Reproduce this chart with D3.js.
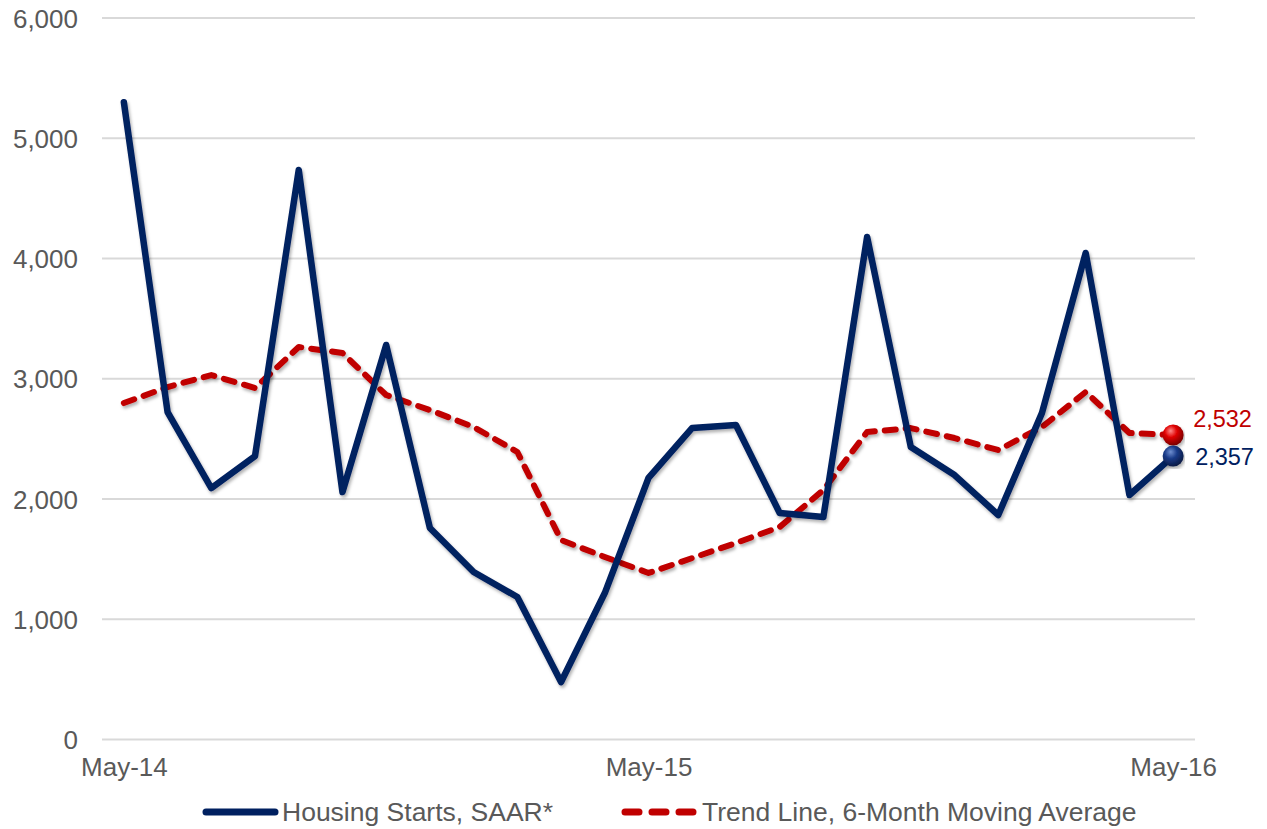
<!DOCTYPE html>
<html>
<head>
<meta charset="utf-8">
<script src="https://cdn.jsdelivr.net/npm/d3@7/dist/d3.min.js"></script>
<style>
  html, body { margin: 0; padding: 0; background: #ffffff; }
  svg { display: block; }
  text { font-family: "Liberation Sans", Arial, sans-serif; }
</style>
</head>
<body>
<svg id="chart" width="1267" height="829"></svg>
<script>
// ---- data ----
const months = ["May-14","Jun-14","Jul-14","Aug-14","Sep-14","Oct-14","Nov-14","Dec-14",
  "Jan-15","Feb-15","Mar-15","Apr-15","May-15","Jun-15","Jul-15","Aug-15","Sep-15","Oct-15",
  "Nov-15","Dec-15","Jan-16","Feb-16","Mar-16","Apr-16","May-16"];
const housingStarts = [5300, 2723, 2091, 2357, 4736, 2058, 3281, 1759, 1393, 1185, 478, 1218,
  2175, 2591, 2615, 1884, 1850, 4179, 2432, 2199, 1867, 2716, 4046, 2033, 2357];
const trendLine = [2798, 2931, 3031, 2923, 3264, 3214, 2865, 2740, 2599, 2391, 1659, 1518,
  1385, 1509, 1634, 1767, 2075, 2557, 2590, 2507, 2407, 2599, 2890, 2549, 2532];
const yTicks = [0, 1000, 2000, 3000, 4000, 5000, 6000];
const xTickLabels = ["May-14", "May-15", "May-16"];
const seriesNames = ["Housing Starts, SAAR*", "Trend Line, 6-Month Moving Average"];

// ---- layout ----
const svg = d3.select("#chart");
const navy = "#002060", red = "#c00000", grey = "#595959", gridC = "#d9d9d9";

const x = d3.scalePoint().domain(months).range([102, 1195]).padding(0.5);
const y = d3.scaleLinear().domain([0, 6000]).range([739.5, 18]);

const defs = svg.append("defs");
const f = defs.append("filter").attr("id", "shadow")
  .attr("x", "-5%").attr("y", "-5%").attr("width", "110%").attr("height", "115%");
f.append("feDropShadow").attr("dx", 1.5).attr("dy", 2.5).attr("stdDeviation", 1.6)
  .attr("flood-color", "#000").attr("flood-opacity", 0.3);

function sphere(id, light, base, dark) {
  const g = defs.append("radialGradient").attr("id", id)
    .attr("cx", "40%").attr("cy", "35%").attr("r", "65%").attr("fx", "38%").attr("fy", "30%");
  g.append("stop").attr("offset", "0%").attr("stop-color", light);
  g.append("stop").attr("offset", "45%").attr("stop-color", base);
  g.append("stop").attr("offset", "100%").attr("stop-color", dark);
}
sphere("redBall", "#ff8a8a", "#e00000", "#7a0000");
sphere("navyBall", "#6f8fd0", "#1a3c8a", "#0a1a45");

// gridlines
svg.append("g").selectAll("line").data(yTicks).join("line")
  .attr("x1", 102).attr("x2", 1195)
  .attr("y1", d => y(d)).attr("y2", d => y(d))
  .attr("stroke", gridC).attr("stroke-width", 2);

// y axis labels
const yAxis = d3.axisLeft(y).tickValues(yTicks).tickFormat(d3.format(",")).tickSize(0).tickPadding(0);
const gy = svg.append("g").attr("transform", "translate(78,0)").call(yAxis);
gy.select(".domain").remove();
gy.selectAll("text").attr("fill", grey).style("font-size", "26px")
  .style("font-family", "'Liberation Sans', Arial, sans-serif").attr("dy", "0.35em");

// x axis labels
const xAxis = d3.axisBottom(x).tickValues(xTickLabels).tickSize(0).tickPadding(0);
const gx = svg.append("g").attr("transform", "translate(0,758)").call(xAxis);
gx.select(".domain").remove();
gx.selectAll("text").attr("fill", grey).style("font-size", "26px")
  .style("font-family", "'Liberation Sans', Arial, sans-serif").attr("dy", "0.71em");

// lines
const line = d3.line().x((d, i) => x(months[i])).y(d => y(d));
svg.append("path").datum(trendLine).attr("d", line)
  .attr("fill", "none").attr("stroke", red).attr("stroke-width", 6)
  .attr("stroke-dasharray", "11 10").attr("stroke-linecap", "round").attr("stroke-linejoin", "round")
  .attr("filter", "url(#shadow)");
svg.append("path").datum(housingStarts).attr("d", line)
  .attr("fill", "none").attr("stroke", navy).attr("stroke-width", 6.5)
  .attr("stroke-linejoin", "round").attr("stroke-linecap", "round")
  .attr("filter", "url(#shadow)");

// end markers
const last = months.length - 1;
svg.append("circle").attr("cx", x(months[last])).attr("cy", y(trendLine[last])).attr("r", 10.5)
  .attr("fill", "url(#redBall)").attr("filter", "url(#shadow)");
svg.append("circle").attr("cx", x(months[last])).attr("cy", y(housingStarts[last])).attr("r", 10.5)
  .attr("fill", "url(#navyBall)").attr("filter", "url(#shadow)");

// end labels
const fmt = d3.format(",");
svg.append("text").attr("x", x(months[last]) + 20).attr("y", y(trendLine[last]) - 8)
  .attr("fill", red).style("font-size", "23.5px").text(fmt(trendLine[last]));
svg.append("text").attr("x", x(months[last]) + 22).attr("y", y(housingStarts[last]) + 9)
  .attr("fill", navy).style("font-size", "23.5px").text(fmt(housingStarts[last]));

// legend
const lg = svg.append("g");
lg.append("line").attr("x1", 206).attr("x2", 275).attr("y1", 812).attr("y2", 812)
  .attr("stroke", navy).attr("stroke-width", 7).attr("stroke-linecap", "round");
lg.append("text").attr("x", 282).attr("y", 821).attr("fill", grey).style("font-size", "26.5px")
  .text(seriesNames[0]);
lg.append("line").attr("x1", 625).attr("x2", 695).attr("y1", 812).attr("y2", 812)
  .attr("stroke", red).attr("stroke-width", 7).attr("stroke-linecap", "round")
  .attr("stroke-dasharray", "14 13");
lg.append("text").attr("x", 702).attr("y", 821).attr("fill", grey).style("font-size", "26.5px")
  .text(seriesNames[1]);
</script>
</body>
</html>
